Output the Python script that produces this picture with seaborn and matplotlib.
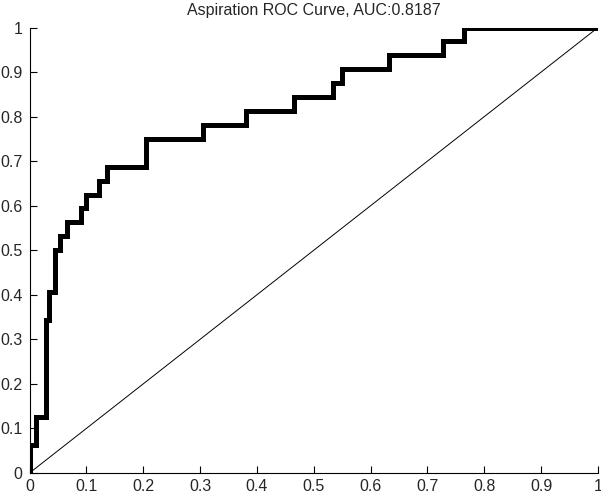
import matplotlib
matplotlib.use("Agg")
import matplotlib.pyplot as plt
import seaborn as sns
import numpy as np

# ROC corner points (false positive rate, true positive rate)
fpr = [0.0, 0.0, 0.012, 0.029, 0.035, 0.044, 0.053, 0.066, 0.091, 0.099, 0.122, 0.136,
       0.205, 0.305, 0.381, 0.466, 0.534, 0.550, 0.633, 0.727, 0.765, 1.0]
tpr = [0.0, 0.0625, 0.125, 0.34375, 0.40625, 0.5, 0.53125, 0.5625, 0.59375, 0.625, 0.65625, 0.6875,
       0.75, 0.78125, 0.8125, 0.84375, 0.875, 0.90625, 0.9375, 0.96875, 1.0, 1.0]
diag_x = [0.0, 1.0]
diag_y = [0.0, 1.0]
ticks = [0, 0.1, 0.2, 0.3, 0.4, 0.5, 0.6, 0.7, 0.8, 0.9, 1]
tick_labels = ["0", "0.1", "0.2", "0.3", "0.4", "0.5", "0.6", "0.7", "0.8", "0.9", "1"]
title = "Aspiration ROC Curve, AUC:0.8187"

sns.set_style("ticks")
plt.rcParams["font.family"] = ["Liberation Sans", "DejaVu Sans"]
plt.rcParams["xtick.direction"] = "in"
plt.rcParams["ytick.direction"] = "in"

fig = plt.figure(figsize=(6.01, 4.97), dpi=100)
ax = fig.add_axes([29.5 / 601, 24 / 497, 568.5 / 601, 445.5 / 497])

sns.lineplot(x=fpr, y=tpr, estimator=None, sort=False, drawstyle="steps-post",
             color="black", lw=3.6, solid_joinstyle="miter", ax=ax)
sns.lineplot(x=diag_x, y=diag_y, estimator=None, sort=False, color="black", lw=0.7, ax=ax)

ax.set_xlim(0, 1)
ax.set_ylim(0, 1)
ax.set_xticks(ticks)
ax.set_xticklabels(tick_labels)
ax.set_yticks(ticks)
ax.set_yticklabels(tick_labels)
ax.tick_params(axis="both", labelsize=11.5, length=5, width=0.8, color="black")
ax.tick_params(axis="x", pad=4)
ax.tick_params(axis="y", pad=5)
for s in ["top", "right"]:
    ax.spines[s].set_visible(False)
for s in ["left", "bottom"]:
    ax.spines[s].set_linewidth(0.8)
    ax.spines[s].set_color("black")
ax.set_title(title, fontsize=11.5, pad=9)
ax.set_xlabel("")
ax.set_ylabel("")

fig.savefig("out.png", dpi=100)
